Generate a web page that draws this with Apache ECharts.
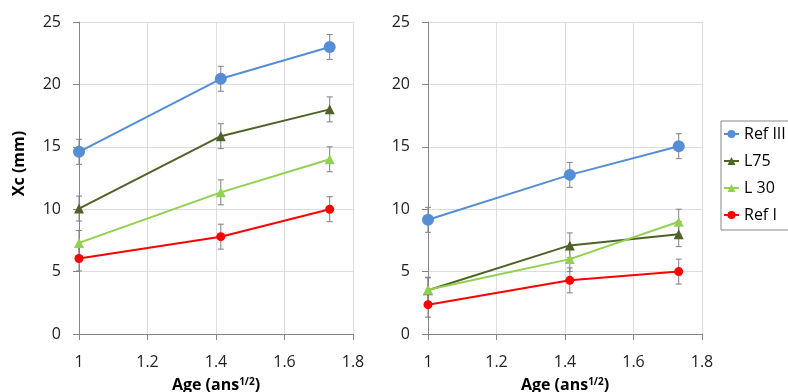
<!DOCTYPE html>
<html>
<head>
<meta charset="utf-8">
<script src="https://cdn.jsdelivr.net/npm/echarts@6/dist/echarts.min.js"></script>
<style>html,body{margin:0;padding:0;background:#fff}#c{width:788px;height:392px}</style>
</head>
<body>
<div id="c"></div>
<script>
// x positions: sqrt(age) in years^(1/2)
const ages = [1, 1.414, 1.732];
const xTicks = [1, 1.2, 1.4, 1.6, 1.8];
const yTicks = [0, 5, 10, 15, 20, 25];
const seriesNames = ['Ref III', 'L75', 'L 30', 'Ref I'];

// Left panel values (Xc, mm)
const leftRefIII = [14.6, 20.45, 23.0];
const leftL75 = [10.05, 15.85, 18.0];
const leftL30 = [7.3, 11.35, 14.0];
const leftRefI = [6.05, 7.8, 10.0];
// Right panel values (Xc, mm)
const rightRefIII = [9.15, 12.75, 15.05];
const rightL75 = [3.5, 7.1, 8.0];
const rightL30 = [3.55, 6.0, 9.0];
const rightRefI = [2.35, 4.3, 5.0];
// Error bar half-widths (mm)
const leftErrRefIII = [1, 1, 1];
const leftErrL75 = [1, 1, 1];
const leftErrL30 = [1, 1, 1];
const leftErrRefI = [1, 1, 1];
const rightErrRefIII = [1, 1, 1];
const rightErrL75 = [1, 1, 1];
const rightErrL30 = [1, 1, 1];
const rightErrRefI = [1, 1, 1];

const styles = {
  'Ref III': {color: '#558ED5', symbol: 'circle', size: 12},
  'L75': {color: '#4F6228', symbol: 'triangle', size: 10},
  'L 30': {color: '#92D050', symbol: 'triangle', size: 10},
  'Ref I': {color: '#FF0000', symbol: 'circle', size: 9}
};

const FONT = '"Open Sans", "Liberation Sans", sans-serif';
const panels = [
  {vals: [leftRefIII, leftL75, leftL30, leftRefI], errs: [leftErrRefIII, leftErrL75, leftErrL30, leftErrRefI]},
  {vals: [rightRefIII, rightL75, rightL30, rightRefI], errs: [rightErrRefIII, rightErrL75, rightErrL30, rightErrRefI]}
];

function errRender(params, api) {
  const x = api.value(0), lo = api.value(1), hi = api.value(2);
  const a = api.coord([x, hi]), b = api.coord([x, lo]);
  const w = 3;
  const st = {stroke: '#7F7F7F', lineWidth: 1};
  return {type: 'group', children: [
    {type: 'line', shape: {x1: a[0], y1: a[1], x2: b[0], y2: b[1]}, style: st},
    {type: 'line', shape: {x1: a[0] - w, y1: a[1], x2: a[0] + w, y2: a[1]}, style: st},
    {type: 'line', shape: {x1: b[0] - w, y1: b[1], x2: b[0] + w, y2: b[1]}, style: st}
  ]};
}

const series = [];
panels.forEach((p, gi) => {
  seriesNames.forEach((name, si) => {
    const s = styles[name];
    series.push({
      type: 'line', name: name, xAxisIndex: gi, yAxisIndex: gi, z: 3 + si,
      data: ages.map((x, i) => [x, p.vals[si][i]]),
      symbol: s.symbol, symbolSize: s.size, showSymbol: true,
      lineStyle: {color: s.color, width: 2},
      itemStyle: {color: s.color},
      animation: false
    });
  });
  seriesNames.forEach((name, si) => {
    const v = p.vals[si], e = p.errs[si];
    series.push({
      type: 'custom', name: name + ' error', xAxisIndex: gi, yAxisIndex: gi, z: 1,
      renderItem: errRender, silent: true,
      data: ages.map((x, i) => [x, v[i] - e[i], v[i] + e[i]])
    });
  });
});

function xAxis(gi) {
  return {
    type: 'value', gridIndex: gi, min: xTicks[0], max: xTicks[xTicks.length - 1], interval: 0.2,
    name: 'Age (ans{sup|1/2})', nameLocation: 'middle', nameGap: 43,
    nameTextStyle: {fontFamily: FONT, fontSize: 16, fontWeight: 'bold', color: '#000',
      rich: {sup: {fontFamily: FONT, fontSize: 10, fontWeight: 'bold', color: '#000', verticalAlign: 'top', padding: [0, 0, 6, 0]}}},
    axisLine: {show: true, lineStyle: {color: '#868686', width: 1}},
    axisTick: {show: true, length: 6, lineStyle: {color: '#868686'}},
    axisLabel: {fontFamily: FONT, fontSize: 16, color: '#222', margin: 20,
      formatter: v => String(Math.round(v * 10) / 10)},
    splitLine: {show: true, lineStyle: {color: '#DDDDDD', width: 1}}
  };
}
function yAxis(gi) {
  const a = {
    type: 'value', gridIndex: gi, min: yTicks[0], max: yTicks[yTicks.length - 1], interval: 5,
    axisLine: {show: true, lineStyle: {color: '#868686', width: 1}},
    axisTick: {show: true, length: 6, lineStyle: {color: '#868686'}},
    axisLabel: {fontFamily: FONT, fontSize: 16, color: '#222', margin: 18},
    splitLine: {show: true, lineStyle: {color: '#DDDDDD', width: 1}}
  };
  if (gi === 0) {
    a.name = 'Xc (mm)';
    a.nameLocation = 'middle';
    a.nameGap = 52;
    a.nameTextStyle = {fontFamily: FONT, fontSize: 16, fontWeight: 'bold', color: '#000', padding: [0, 0, 0, 29]};
  }
  return a;
}

const chart = echarts.init(document.getElementById('c'), null, {renderer: 'canvas'});
chart.setOption({
  animation: false,
  backgroundColor: '#fff',
  grid: [
    {left: 79, top: 22, width: 274, height: 312, containLabel: false, outerBoundsMode: 'none'},
    {left: 428, top: 22, width: 274, height: 312, containLabel: false, outerBoundsMode: 'none'}
  ],
  xAxis: [xAxis(0), xAxis(1)],
  yAxis: [yAxis(0), yAxis(1)],
  legend: {
    orient: 'vertical', left: 721, top: 121,
    data: seriesNames.map(n => ({name: n})),
    itemWidth: 15, itemHeight: 10, itemGap: 9,
    padding: [4, 40, 6, 2],
    borderColor: '#888', borderWidth: 1,
    textStyle: {fontFamily: FONT, fontSize: 16, color: '#000', lineHeight: 18}
  },
  series: series
});
</script>
</body>
</html>
